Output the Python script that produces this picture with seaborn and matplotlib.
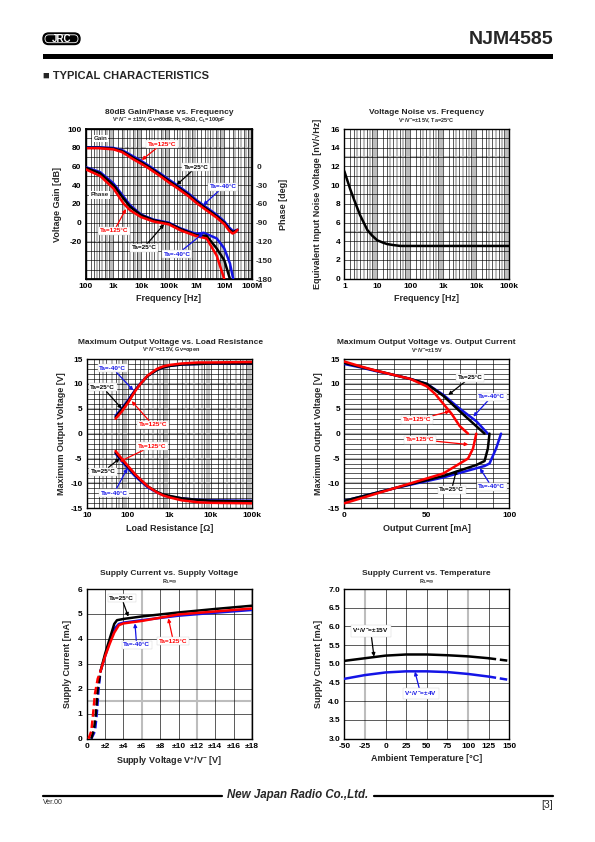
import numpy as np
import pandas as pd
import matplotlib
matplotlib.use("Agg")
import matplotlib.pyplot as plt
import seaborn as sns
from matplotlib.patches import FancyBboxPatch, Rectangle

# ---------------- data ----------------
# Chart 1: 80dB Gain/Phase vs Frequency
gain_f = [100, 300, 1e3, 2e3, 3e3, 5e3, 1e4, 2e4, 5e4, 1e5, 2e5, 5e5, 1e6, 2e6, 5e6, 1e7, 1.5e7, 2e7, 2.5e7, 3e7]
gain_25 = [80, 80, 79, 76.5, 73.5, 69.5, 64.5, 59, 51, 44.5, 38.5, 30, 22.5, 16, 7.5, 0, -7, -10, -9, -7.5]
gain_m40 = [80.5, 80.5, 79.8, 77.5, 74.8, 71, 66, 60.3, 52.3, 46, 40, 31.5, 24, 17.5, 9, 1.5, -5, -8.5, -8.5, -7.5]
gain_125 = [79.5, 79.5, 78.3, 75.5, 72.3, 68, 63, 57.5, 49.5, 43, 37, 28.5, 21, 14.5, 6, -1.5, -8.5, -11.5, -10, -7.5]

ph_f_25 = [100, 330, 1e3, 2.3e3, 4e3, 1e4, 2.8e4, 1e5, 2.6e5, 1e6, 2.3e6, 5.3e6, 1e7, 1.6e7]
ph_25 = [-2, -11, -30, -51, -64.5, -78, -86, -91, -100, -110, -111, -131, -150, -180]
ph_f_m40 = [100, 330, 1e3, 2.3e3, 4e3, 1e4, 2.8e4, 1e5, 2.6e5, 1e6, 1.8e6, 5.3e6, 1e7, 1.6e7, 2.1e7]
ph_m40 = [-1, -9, -27, -48, -62, -77, -85, -90, -99, -108, -106, -115, -131, -155, -180]
ph_f_125 = [100, 330, 1e3, 2.3e3, 4e3, 1e4, 2.8e4, 1e5, 2.6e5, 1e6, 2.3e6, 5.3e6, 1e7]
ph_125 = [-4.5, -15, -35, -59, -70, -81, -88, -92.6, -102, -111.6, -115, -142.5, -180]

# Chart 2: Voltage noise
noise_f = [1, 1.5, 2, 3, 4, 5, 7, 10, 15, 20, 30, 50, 100, 1000, 10000, 100000]
noise_v = [11.5, 9.6, 8.4, 6.8, 5.9, 5.2, 4.6, 4.1, 3.85, 3.7, 3.6, 3.5, 3.5, 3.5, 3.5, 3.5]

# Chart 3: Max output voltage vs load resistance
rl = [50, 70, 100, 150, 200, 300, 500, 700, 1000, 2000, 5000, 10000, 100000]
vp_25 = [3.3, 4.8, 6.5, 8.7, 10.0, 11.6, 12.8, 13.3, 13.6, 13.9, 14.0, 14.1, 14.1]
vp_m40 = [3.6, 5.0, 6.7, 8.8, 10.1, 11.6, 12.8, 13.3, 13.6, 13.9, 14.0, 14.1, 14.1]
vp_125 = [3.0, 4.4, 6.2, 8.6, 10.0, 11.7, 13.0, 13.5, 13.8, 14.1, 14.3, 14.3, 14.4]
vn_25 = [-3.8, -5.2, -6.7, -8.3, -9.3, -10.6, -11.7, -12.2, -12.5, -13.0, -13.3, -13.5, -13.6]
vn_m40 = [-4.0, -5.5, -7.0, -8.6, -9.5, -10.8, -11.8, -12.3, -12.6, -13.0, -13.3, -13.4, -13.5]
vn_125 = [-3.5, -5.0, -6.5, -8.2, -9.2, -10.6, -11.8, -12.4, -12.8, -13.4, -13.8, -13.9, -14.0]

# Chart 4: Max output voltage vs output current
ip_25 = [0, 10, 20, 30, 40, 50, 60, 70, 80, 85]
vo_p25 = [14.2, 13.4, 12.6, 11.8, 11.0, 10.0, 7.6, 4.5, 1.5, 0]
ip_m40 = [0, 10, 20, 30, 40, 50, 60, 70, 80, 87]
vo_pm40 = [14.0, 13.3, 12.5, 11.8, 11.0, 10.0, 7.8, 5.0, 2.5, 0]
ip_125 = [0, 10, 20, 30, 40, 50, 55, 60, 65, 70, 75]
vo_p125 = [14.5, 13.5, 12.6, 11.8, 11.0, 9.5, 8.0, 6.0, 4.0, 1.5, 0]
in_25 = [0, 30, 60, 80, 85, 87, 88]
vo_n25 = [-13.5, -11.0, -8.5, -6.3, -5.5, -3.0, 0]
in_m40 = [0, 30, 60, 85, 88, 92, 95]
vo_nm40 = [-13.5, -11.0, -8.8, -6.5, -6.0, -3.0, 0]
in_125 = [0, 20, 40, 60, 75, 78, 80]
vo_n125 = [-14.0, -12.0, -10.0, -8.0, -5.0, -3.0, 0]

# Chart 5: Supply current vs supply voltage
sv_25 = [0.5, 0.8, 1.0, 1.2, 1.5, 2.0, 2.5, 3.0, 3.3, 4, 6, 10, 14, 18]
sc_25 = [0, 0.4, 1.0, 2.0, 2.7, 3.4, 4.0, 4.6, 4.75, 4.8, 4.9, 5.06, 5.2, 5.33]
sv_m40 = [0.5, 0.9, 1.1, 1.3, 1.5, 2.0, 2.5, 3.0, 3.5, 4, 6, 10, 14, 18]
sc_m40 = [0, 0.3, 1.0, 2.0, 2.7, 3.3, 3.9, 4.4, 4.6, 4.65, 4.75, 4.93, 5.05, 5.16]
sv_125 = [0.2, 0.5, 0.7, 0.9, 1.2, 1.5, 2.0, 2.5, 3.0, 3.5, 4, 6, 10, 14, 18]
sc_125 = [0, 0.3, 1.0, 1.8, 2.4, 2.7, 3.3, 3.8, 4.25, 4.55, 4.62, 4.72, 4.98, 5.1, 5.22]

# Chart 6: Supply current vs temperature
temp = [-50, -25, 0, 25, 50, 75, 100, 125, 150]
ic_15 = [5.08, 5.15, 5.22, 5.25, 5.25, 5.23, 5.2, 5.15, 5.08]
ic_4 = [4.6, 4.7, 4.77, 4.8, 4.8, 4.78, 4.73, 4.66, 4.57]

# ---------------- style ----------------
sns.set_theme(style="white")
plt.rcParams['font.family'] = ['Liberation Sans', 'DejaVu Sans']
plt.rcParams['font.weight'] = 'bold'
plt.rcParams['axes.unicode_minus'] = False
plt.rcParams['mathtext.fontset'] = 'custom'
plt.rcParams['mathtext.rm'] = 'Liberation Sans:bold'
plt.rcParams['mathtext.it'] = 'Liberation Sans:bold'
plt.rcParams['mathtext.bf'] = 'Liberation Sans:bold'
plt.rcParams['mathtext.default'] = 'rm'

W, H = 595, 842
fig = plt.figure(figsize=(W / 100, H / 100), dpi=100)
fig.patch.set_facecolor('white')

BLACK, BLUE, RED = '#000000', '#1414e6', '#ff0000'
GRAY = '#bdbdbd'
LW = 1.8


def add_ax(l, t, r, b):
    return fig.add_axes([l / W, 1 - b / H, (r - l) / W, (b - t) / H])


def style(ax):
    ax.set_facecolor('white')
    for s in ax.spines.values():
        s.set_color('black')
        s.set_linewidth(1.0)
        s.set_visible(True)
    ax.tick_params(axis='both', labelsize=6, length=0, pad=3, colors='black')
    ax.grid(False)


def vgrid(ax, black, gray):
    for v in gray:
        ax.axvline(v, color=GRAY, lw=1.5, zorder=0.5)
    for v in black:
        ax.axvline(v, color='black', lw=0.45, zorder=0.6)


def hgrid(ax, black, gray):
    for v in gray:
        ax.axhline(v, color=GRAY, lw=1.5, zorder=0.5)
    for v in black:
        ax.axhline(v, color='black', lw=0.45, zorder=0.6)


def log_grid(ax, d0, d1):
    blk, gr = [], []
    for d in range(d0, d1):
        base = 10.0 ** d
        blk += [base] + [m * base for m in (1.5, 2, 3, 5, 7)]
        gr += [m * base for m in (2.5, 4, 6, 8, 9)]
    vgrid(ax, blk, gr)


def line(ax, x, y, color, ls='-'):
    sns.lineplot(x=x, y=y, ax=ax, color=color, lw=LW, linestyle=ls,
                 sort=False, errorbar=None, estimator=None, zorder=3)


def label(ax, text, xyt, xya, color, fs=4.6):
    ax.annotate(text, xy=xya, xytext=xyt, xycoords='axes fraction',
                textcoords='axes fraction', ha='center', va='center',
                fontsize=fs, color=color, fontweight='bold', zorder=10,
                bbox=dict(boxstyle='square,pad=0.25', fc='white', ec='#d0d0d0', lw=0.3),
                arrowprops=dict(arrowstyle='-|>', color=color, lw=0.9,
                                mutation_scale=5, shrinkA=0, shrinkB=0))


def title(cx, y, text, sub, ysub):
    fig.text(cx / W, 1 - y / H, text, ha='center', va='center', fontsize=6, fontweight='bold')
    if sub:
        fig.text(cx / W, 1 - ysub / H, sub, ha='center', va='center', fontsize=4, fontweight='bold')


def log_ticks(ax, vals, labels):
    ax.xaxis.set_major_locator(matplotlib.ticker.FixedLocator(vals))
    ax.xaxis.set_major_formatter(matplotlib.ticker.FixedFormatter(labels))
    ax.xaxis.set_minor_locator(matplotlib.ticker.NullLocator())


VV = 'V$^{+}$/V$^{-}$'

# ---------------- header / footer overlay ----------------
ov = fig.add_axes([0, 0, 1, 1], zorder=-5)
ov.set_xlim(0, W)
ov.set_ylim(H, 0)
ov.axis('off')
ov.add_patch(FancyBboxPatch((43, 33), 37, 11.5, boxstyle='round,pad=0,rounding_size=5.7',
                            fc='black', ec='black'))
ov.add_patch(FancyBboxPatch((45, 34.8), 33, 7.9, boxstyle='round,pad=0,rounding_size=3.9',
                            fc='none', ec='white', lw=0.6))
ov.text(61.5, 39, 'JRC', color='white', fontsize=7, fontweight='bold', ha='center', va='center')
ov.text(553, 40, 'NJM4585', fontsize=14, fontweight='bold', ha='right', va='center')
ov.add_patch(Rectangle((43, 53.5), 510, 5.5, fc='black', ec='none'))
ov.text(43, 76, '■ TYPICAL CHARACTERISTICS', fontsize=8, fontweight='bold', ha='left', va='center')
ov.plot([43, 222], [796, 796], color='black', lw=1.6)
ov.plot([374, 553], [796, 796], color='black', lw=1.6)
ov.text(298, 795, 'New Japan Radio Co.,Ltd.', fontsize=8.3, fontweight='bold', style='italic',
        ha='center', va='center')
ov.text(43, 803, 'Ver.00', fontsize=5, fontweight='normal', ha='left', va='center')
ov.text(553, 805, '[3]', fontsize=7.5, fontweight='normal', ha='right', va='center')

# ---------------- Chart 1 ----------------
ax1 = add_ax(85.7, 129, 252, 279)
style(ax1)
ax1.set_xscale('log')
log_grid(ax1, 2, 8)
hgrid(ax1, list(range(-60, 101, 10)), [80, -20])
line(ax1, gain_f, gain_m40, BLUE)
line(ax1, gain_f, gain_25, BLACK)
line(ax1, gain_f, gain_125, RED)
ax1.set_ylim(-60, 100)
ax1.set_yticks([100, 80, 60, 40, 20, 0, -20])
ax1.set_xlabel('Frequency [Hz]', fontsize=6.5, fontweight='bold')
ax1.set_ylabel('Voltage Gain [dB]', fontsize=6.5, fontweight='bold')
ax1.xaxis.set_label_coords(0.5, -0.1)
ax1.yaxis.set_label_coords(-0.145, 0.5)

ax1b = ax1.twinx()
line(ax1b, ph_f_m40, ph_m40, BLUE)
line(ax1b, ph_f_25, ph_25, BLACK)
line(ax1b, ph_f_125, ph_125, RED)
ax1b.set_ylim(-180, 60)
ax1b.set_yticks([0, -30, -60, -90, -120, -150, -180])
ax1b.tick_params(axis='y', labelsize=6, length=0, pad=3)
ax1b.set_ylabel('Phase [deg]', fontsize=6.5, fontweight='bold', rotation=90)
ax1b.yaxis.set_label_coords(1.16, 0.5)
for s in ax1b.spines.values():
    s.set_color('black')
ax1b.grid(False)
ax1.set_xlim(100, 1e8)
log_ticks(ax1, [1e2, 1e3, 1e4, 1e5, 1e6, 1e7, 1e8], ['100', '1k', '10k', '100k', '1M', '10M', '100M'])
ax1b.text(0.087, 0.938, 'Gain', transform=ax1b.transAxes, fontsize=4.5, ha='center', va='center',
          bbox=dict(boxstyle='square,pad=0.2', fc='white', ec='none'), zorder=10)
ax1b.text(0.085, 0.56, 'Phase', transform=ax1b.transAxes, fontsize=4.5, ha='center', va='center',
          bbox=dict(boxstyle='square,pad=0.2', fc='white', ec='none'), zorder=10)
label(ax1b, 'Ta=125°C', (0.457, 0.9), (0.337, 0.793), RED)
label(ax1b, 'Ta=25°C', (0.663, 0.745), (0.547, 0.627), BLACK)
label(ax1b, 'Ta=-40°C', (0.827, 0.615), (0.707, 0.493), BLUE)
label(ax1b, 'Ta=125°C', (0.17, 0.32), (0.242, 0.467), RED)
label(ax1b, 'Ta=25°C', (0.35, 0.209), (0.471, 0.365), BLACK)
label(ax1b, 'Ta=-40°C', (0.551, 0.165), (0.707, 0.305), BLUE)
title(168.8, 112.5, '80dB Gain/Phase vs. Frequency',
      VV + ' = ±15V, Gv=80dB, R$_L$=2kΩ, C$_L$=100pF', 120.5)

# ---------------- Chart 2 ----------------
ax2 = add_ax(344.3, 129, 509.3, 278.7)
style(ax2)
ax2.set_xscale('log')
log_grid(ax2, 0, 5)
hgrid(ax2, list(range(0, 17)), [13, 5])
line(ax2, noise_f, noise_v, BLACK)
ax2.set_xlim(1, 1e5)
ax2.set_ylim(0, 16)
log_ticks(ax2, [1, 10, 100, 1e3, 1e4, 1e5], ['1', '10', '100', '1k', '10k', '100k'])
ax2.set_yticks(range(0, 17, 2))
ax2.set_xlabel('Frequency [Hz]', fontsize=6.5, fontweight='bold')
ax2.set_ylabel('Equivalent Input Noise Voltage [nV/√Hz]', fontsize=6.5, fontweight='bold')
ax2.xaxis.set_label_coords(0.5, -0.105)
ax2.yaxis.set_label_coords(-0.135, 0.5)
title(426.8, 112.5, 'Voltage Noise vs. Frequency', VV + '=±15V, Ta=25°C', 120.5)

# ---------------- Chart 3 ----------------
ax3 = add_ax(86.7, 359, 252, 508.3)
style(ax3)
ax3.set_xscale('log')
log_grid(ax3, 1, 5)
hgrid(ax3, list(range(-15, 16)), [10, 5, 0, -5, -10])
for yv, c in ((vp_m40, BLUE), (vp_25, BLACK), (vp_125, RED)):
    line(ax3, rl, yv, c)
for yv, c in ((vn_m40, BLUE), (vn_25, BLACK), (vn_125, RED)):
    line(ax3, rl, yv, c)
ax3.set_xlim(10, 1e5)
ax3.set_ylim(-15, 15)
log_ticks(ax3, [10, 100, 1e3, 1e4, 1e5], ['10', '100', '1k', '10k', '100k'])
ax3.set_yticks(range(-15, 16, 5))
ax3.set_xlabel('Load Resistance [Ω]', fontsize=6.5, fontweight='bold')
ax3.set_ylabel('Maximum Output Voltage [V]', fontsize=6.5, fontweight='bold')
ax3.xaxis.set_label_coords(0.5, -0.105)
ax3.yaxis.set_label_coords(-0.125, 0.5)
label(ax3, 'Ta=-40°C', (0.157, 0.938), (0.282, 0.79), BLUE)
label(ax3, 'Ta=25°C', (0.097, 0.81), (0.212, 0.668), BLACK)
label(ax3, 'Ta=125°C', (0.40, 0.558), (0.272, 0.718), RED)
label(ax3, 'Ta=125°C', (0.395, 0.417), (0.2, 0.313), RED)
label(ax3, 'Ta=25°C', (0.10, 0.245), (0.2, 0.335), BLACK)
label(ax3, 'Ta=-40°C', (0.165, 0.10), (0.246, 0.268), BLUE)
title(171, 342.5, 'Maximum Output Voltage vs. Load Resistance', VV + '=±15V, Gv=open', 350.5)

# ---------------- Chart 4 ----------------
ax4 = add_ax(344.3, 359, 509.3, 508.3)
style(ax4)
vgrid(ax4, list(range(0, 101, 10)), [])
hgrid(ax4, list(range(-15, 16)), [10, 5, 0, -5, -10])
line(ax4, ip_m40, vo_pm40, BLUE)
line(ax4, ip_25, vo_p25, BLACK)
line(ax4, ip_125, vo_p125, RED)
line(ax4, in_m40, vo_nm40, BLUE)
line(ax4, in_25, vo_n25, BLACK)
line(ax4, in_125, vo_n125, RED)
ax4.set_xlim(0, 100)
ax4.set_ylim(-15, 15)
ax4.set_xticks([0, 50, 100])
ax4.set_yticks(range(-15, 16, 5))
ax4.set_xlabel('Output Current [mA]', fontsize=6.5, fontweight='bold')
ax4.set_ylabel('Maximum Output Voltage [V]', fontsize=6.5, fontweight='bold')
ax4.xaxis.set_label_coords(0.5, -0.105)
ax4.yaxis.set_label_coords(-0.13, 0.5)
label(ax4, 'Ta=25°C', (0.762, 0.875), (0.63, 0.759), BLACK)
label(ax4, 'Ta=-40°C', (0.893, 0.748), (0.782, 0.614), BLUE)
label(ax4, 'Ta=125°C', (0.439, 0.592), (0.64, 0.65), RED)
label(ax4, 'Ta=125°C', (0.459, 0.46), (0.752, 0.427), RED)
label(ax4, 'Ta=25°C', (0.65, 0.123), (0.68, 0.257), BLACK)
label(ax4, 'Ta=-40°C', (0.893, 0.145), (0.822, 0.268), BLUE)
title(426.8, 342.5, 'Maximum Output Voltage vs. Output Current', VV + '=±15V', 350.5)

# ---------------- Chart 5 ----------------
ax5 = add_ax(86.7, 589, 252, 738.7)
style(ax5)
vgrid(ax5, [0, 2, 4, 8, 10, 14, 16], [6, 12, 18])
hgrid(ax5, list(range(0, 7)), [1.5])
DASH_LIM = 1.5
for xs, ys, c in ((sv_m40, sc_m40, BLUE), (sv_25, sc_25, BLACK), (sv_125, sc_125, RED)):
    xs_a, ys_a = np.array(xs), np.array(ys)
    m_d = xs_a <= DASH_LIM
    m_s = xs_a >= DASH_LIM
    line(ax5, xs_a[m_d], ys_a[m_d], c, ls=(0, (3, 1.5)))
    line(ax5, xs_a[m_s], ys_a[m_s], c)
ax5.set_xlim(0, 18)
ax5.set_ylim(0, 6)
ax5.set_xticks(range(0, 19, 2))
ax5.set_xticklabels(['0'] + ['±%d' % v for v in range(2, 19, 2)])
ax5.set_yticks(range(0, 7))
ax5.set_xlabel('Supply Voltage V$^{+}$/V$^{-}$ [V]', fontsize=6.5, fontweight='bold')
ax5.set_ylabel('Supply Current [mA]', fontsize=6.5, fontweight='bold')
ax5.xaxis.set_label_coords(0.5, -0.105)
ax5.yaxis.set_label_coords(-0.09, 0.5)
label(ax5, 'Ta=25°C', (0.212, 0.938), (0.252, 0.815), BLACK)
label(ax5, 'Ta=-40°C', (0.302, 0.626), (0.292, 0.77), BLUE)
label(ax5, 'Ta=125°C', (0.524, 0.652), (0.494, 0.804), RED)
title(169.3, 573.5, 'Supply Current vs. Supply Voltage', 'R$_L$=∞', 581.5)

# ---------------- Chart 6 ----------------
ax6 = add_ax(344.3, 589, 509.3, 738.7)
style(ax6)
vgrid(ax6, [-50, 0, 25, 50, 75, 125, 150], [-25, 100])
hgrid(ax6, list(np.arange(3.0, 7.01, 0.5)), [])
DASH_T = 125
for ys, c in ((ic_15, BLACK), (ic_4, BLUE)):
    t_a, y_a = np.array(temp), np.array(ys)
    line(ax6, t_a[t_a <= DASH_T], y_a[t_a <= DASH_T], c)
    line(ax6, t_a[t_a >= DASH_T], y_a[t_a >= DASH_T], c, ls=(0, (3, 1.5)))
ax6.set_xlim(-50, 150)
ax6.set_ylim(3.0, 7.0)
ax6.set_xticks(range(-50, 151, 25))
ax6.set_yticks(np.arange(3.0, 7.01, 0.5))
ax6.set_yticklabels(['%.1f' % v for v in np.arange(3.0, 7.01, 0.5)])
ax6.set_xlabel('Ambient Temperature [°C]', fontsize=6.5, fontweight='bold')
ax6.set_ylabel('Supply Current [mA]', fontsize=6.5, fontweight='bold')
ax6.xaxis.set_label_coords(0.5, -0.105)
ax6.yaxis.set_label_coords(-0.13, 0.5)
label(ax6, VV + '=±15V', (0.16, 0.72), (0.18, 0.548), BLACK)
label(ax6, VV + '=±4V', (0.463, 0.30), (0.428, 0.448), BLUE)
title(426.8, 573.5, 'Supply Current vs. Temperature', 'R$_L$=∞', 581.5)

fig.savefig('out.png', dpi=100, facecolor='white')
